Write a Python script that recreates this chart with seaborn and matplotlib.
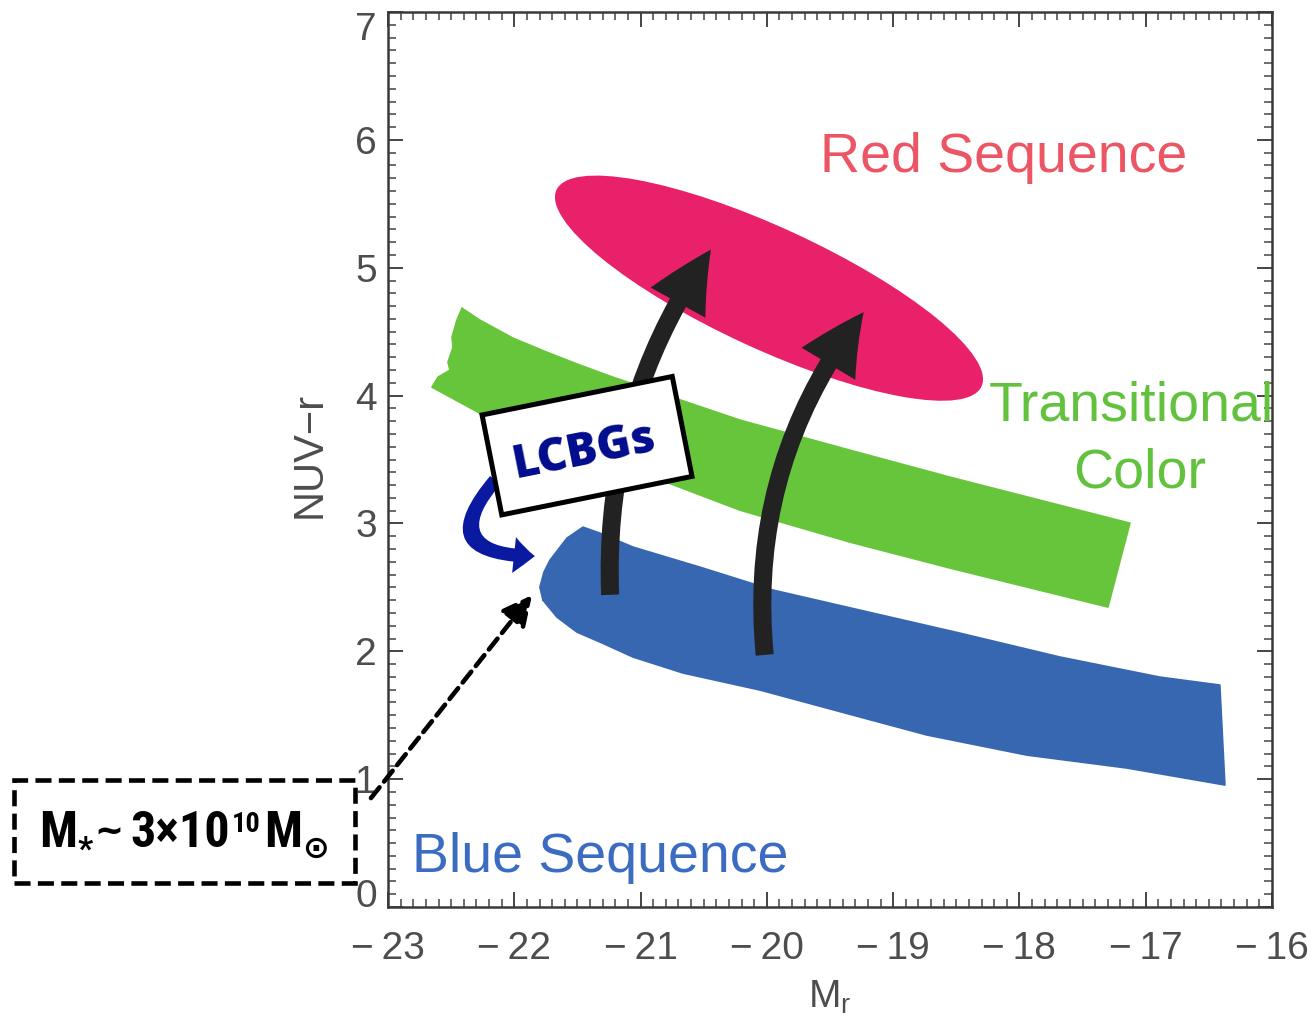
import os
import matplotlib
matplotlib.use("Agg")
import matplotlib.pyplot as plt
import seaborn as sns
import pandas as pd
from matplotlib import font_manager as fm
from matplotlib.patches import Ellipse, Rectangle, FancyArrowPatch, ArrowStyle
from matplotlib.ticker import MultipleLocator

# ---------------- data ----------------
x_ticks = [-23, -22, -21, -20, -19, -18, -17, -16]
y_ticks = [0, 1, 2, 3, 4, 5, 6, 7]

# Transitional colour band (outline, clockwise)
green_x = [-22.414, -22.272, -22.010, -21.741, -21.480, -21.219, -20.213, -19.342, -18.550, -17.125,
           -17.299, -18.550, -19.342, -20.213, -21.005, -21.638, -22.272, -22.652,
           -22.604, -22.509, -22.525, -22.485, -22.493, -22.454]
green_y = [4.683, 4.590, 4.449, 4.339, 4.238, 4.144, 3.808, 3.573, 3.362, 3.002,
           2.346, 2.651, 2.854, 3.104, 3.401, 3.628, 3.862, 4.066,
           4.144, 4.199, 4.261, 4.378, 4.457, 4.590]

# Blue sequence band (outline, clockwise)
blue_x = [-21.773, -21.797, -21.765, -21.717, -21.583, -21.456, -21.321, -21.060, -20.530, -19.952,
          -19.263, -18.471, -17.679, -16.888, -16.413,
          -16.373, -17.149, -17.941, -18.732, -19.263, -20.055, -20.664, -21.060, -21.321, -21.504, -21.662]
blue_y = [2.400, 2.502, 2.619, 2.713, 2.885, 2.971, 2.924, 2.815, 2.658, 2.479,
          2.322, 2.142, 1.955, 1.798, 1.736,
          0.954, 1.087, 1.188, 1.345, 1.486, 1.697, 1.830, 1.955, 2.072, 2.150, 2.267]

# Red sequence ellipse
red_center = [-19.983, 4.840]
red_width = 3.70
red_height = 0.95
red_angle = -24.5

# evolution arrows (start, end)
arrow_starts = [[-21.24, 2.42], [-20.015, 1.95]]
arrow_ends = [[-20.43, 5.16], [-19.22, 4.67]]
arrow_bend = [-0.17, -0.20]

# labels
region_labels = ["Red Sequence", "Transitional", "Color", "Blue Sequence"]
region_label_x = [-18.123, -17.11, -17.046, -21.321]
region_label_y = [5.747, 3.808, 3.284, 0.274]

# ---------------- style ----------------
RED = "#E8216A"
GREEN = "#67C53C"
BLUE = "#3667B0"
RED_TXT = "#EC5563"
GREEN_TXT = "#62C23E"
BLUE_TXT = "#3B6CC2"
AX_COL = "#444444"
LBL_COL = "#4d4d4d"

sns.set_theme(style="ticks")
plt.rcParams["font.family"] = ["Liberation Sans", "DejaVu Sans"]


def condensed_bold_font():
    prefs = ["liberationsansnarrow", "robotocondensed", "opensanscondensed", "notosans", "dejavusans",
             "roboto", "opensans", "lato", "inter", "liberation"]
    found = []
    for fe in fm.fontManager.ttflist:
        stem = os.path.splitext(os.path.basename(fe.fname))[0].lower().replace("-", "").replace("_", "")
        if not ("condensed" in stem or "narrow" in stem):
            continue
        if any(k in stem for k in ("semicondensed", "extracondensed", "ultracondensed", "italic", "oblique", "mono")):
            continue
        if "bold" not in stem or any(k in stem for k in ("extrabold", "semibold", "ultrabold", "demibold")):
            continue
        rank = next((i for i, p in enumerate(prefs) if stem.startswith(p)), len(prefs))
        found.append((rank, fe.fname))
    if found:
        found.sort()
        return found[0][1]
    return None


W, H = 1312, 1019
fig = plt.figure(figsize=(W / 100, H / 100), dpi=100)
ax = fig.add_axes([388 / W, 1 - 907 / H, (1272 - 388) / W, (907 - 12) / H])
ax.set_facecolor("white")

# bands via seaborn line outlines + fill
gdf = pd.DataFrame({"x": green_x + green_x[:1], "y": green_y + green_y[:1]})
bdf = pd.DataFrame({"x": blue_x + blue_x[:1], "y": blue_y + blue_y[:1]})
ax.fill(gdf["x"], gdf["y"], color=GREEN, lw=0, zorder=2)
sns.lineplot(data=gdf, x="x", y="y", sort=False, estimator=None, color=GREEN, lw=1.2, ax=ax, zorder=2)
ax.fill(bdf["x"], bdf["y"], color=BLUE, lw=0, zorder=2)
sns.lineplot(data=bdf, x="x", y="y", sort=False, estimator=None, color=BLUE, lw=1.2, ax=ax, zorder=2)

ax.add_patch(Ellipse(red_center, red_width, red_height, angle=red_angle,
                     facecolor=RED, edgecolor="none", zorder=3))

for (s, e, rad) in zip(arrow_starts, arrow_ends, arrow_bend):
    ax.add_patch(FancyArrowPatch(s, e, connectionstyle=f"arc3,rad={rad}",
                                 arrowstyle=ArrowStyle.Simple(head_length=45, head_width=45, tail_width=13),
                                 mutation_scale=1, color="#222222", lw=0, zorder=4))

# curved dark-blue arrow
ax.add_patch(FancyArrowPatch((-22.137, 3.354), (-21.815, 2.744),
                             connectionstyle="angle3,angleA=49,angleB=0",
                             arrowstyle=ArrowStyle.Simple(head_length=15, head_width=26, tail_width=9.5),
                             mutation_scale=1, color="#0A1AA0", lw=0, zorder=5))

# LCBGs box
bx, by, bw, bh = -21.424, 3.608, 1.536, 0.797
ax.add_patch(Rectangle((bx - bw / 2, by - bh / 2), bw, bh, angle=11.3, rotation_point="center",
                       facecolor="white", edgecolor="black", lw=3.6, zorder=7))
ax.text(bx, 3.468, "LCBGs", rotation=11.3, rotation_mode="anchor", ha="center", va="baseline",
        fontsize=33, fontweight="heavy", family=["Open Sans", "DejaVu Sans"], color="#000C8C", zorder=8)

# region labels
lab_cols = [RED_TXT, GREEN_TXT, GREEN_TXT, BLUE_TXT]
for t, x, y, c in zip(region_labels, region_label_x, region_label_y, lab_cols):
    ax.text(x, y, t, color=c, fontsize=40, ha="center", va="baseline", zorder=6)

# axes
ax.set_xlim(-23, -16)
ax.set_ylim(0, 7)
ax.set_xticks(x_ticks)
ax.set_xticklabels([f"\u2212\u2009{abs(v)}" for v in x_ticks])
ax.set_yticks(y_ticks)
ax.set_yticklabels([str(v) for v in y_ticks])
ax.xaxis.set_minor_locator(MultipleLocator(0.1))
ax.yaxis.set_minor_locator(MultipleLocator(0.1))
ax.tick_params(which="major", direction="in", length=11, width=1.4, color=AX_COL,
               top=True, right=True, labelsize=28, labelcolor=LBL_COL)
ax.tick_params(which="minor", direction="in", length=6, width=1.1, color=AX_COL, top=True, right=True)
ax.tick_params(axis="x", which="major", pad=17)
ax.tick_params(axis="y", which="major", pad=8)
for sp in ax.spines.values():
    sp.set_linewidth(1.8)
    sp.set_color("#3a3a3a")
ylabs = ax.get_yticklabels()
ylabs[-1].set_va("top")
ylabs[0].set_va("baseline")

ax.set_xlabel("M$_\\mathregular{r}$", fontsize=28, color=LBL_COL)
ax.xaxis.set_label_coords(0.5, -0.0804)
ax.set_ylabel("NUV\u2212r", fontsize=30, color=LBL_COL)
ax.yaxis.set_label_coords(-0.066, 0.505)

# dashed mass box (outside the axes)
fig.add_artist(Rectangle((14 / W, 1 - 883 / H), (355 - 14) / W, (883 - 780) / H, transform=fig.transFigure,
                         fill=False, edgecolor="black", lw=3.3, linestyle=(0, (3.5, 1.6))))

cond_path = condensed_bold_font()
if cond_path:
    def mfont(sz):
        return fm.FontProperties(fname=cond_path, size=sz)
    scale = 1.2
else:
    def mfont(sz):
        return fm.FontProperties(family="Liberation Sans", weight="bold", size=sz)
    scale = 0.8
djv = fm.FontProperties(family="DejaVu Sans", weight="bold", size=25)
djv_sun = fm.FontProperties(family="DejaVu Sans", weight="bold", size=23)

# (text, font, baseline offset px (down +), gap after px)
mass_pieces = [("M", mfont(30 * scale), 0, 1),
               ("*", mfont(20 * scale), 13, 1),
               ("~", djv, -4, 7),
               ("3×10", mfont(30 * scale), 0, 2),
               ("10", mfont(17 * scale), -15, 4),
               ("M", mfont(30 * scale), 0, 0),
               ("\u2299", djv_sun, 11, 0)]
renderer = fig.canvas.get_renderer()
placed = []
cur = 0.0
for txt, fp, dy, gap in mass_pieces:
    t = fig.text(0, 0, txt, ha="left", va="baseline", color="black", fontproperties=fp)
    w = t.get_window_extent(renderer).width
    placed.append((t, cur, dy))
    cur += w + gap
x0 = 184 - cur / 2
for t, xx, dy in placed:
    t.set_position(((x0 + xx) / W, 1 - (847 + dy) / H))

ax.annotate("", xy=(-21.860, 2.439), xytext=(-23.135, 0.852), xycoords="data", textcoords="data",
            arrowprops=dict(arrowstyle="-|>,head_length=0.9,head_width=0.45", lw=3.3, color="black",
                            linestyle=(0, (3, 1.6)), shrinkA=0, shrinkB=0, mutation_scale=20),
            annotation_clip=False, zorder=5)

fig.savefig("out.png", dpi=100)
